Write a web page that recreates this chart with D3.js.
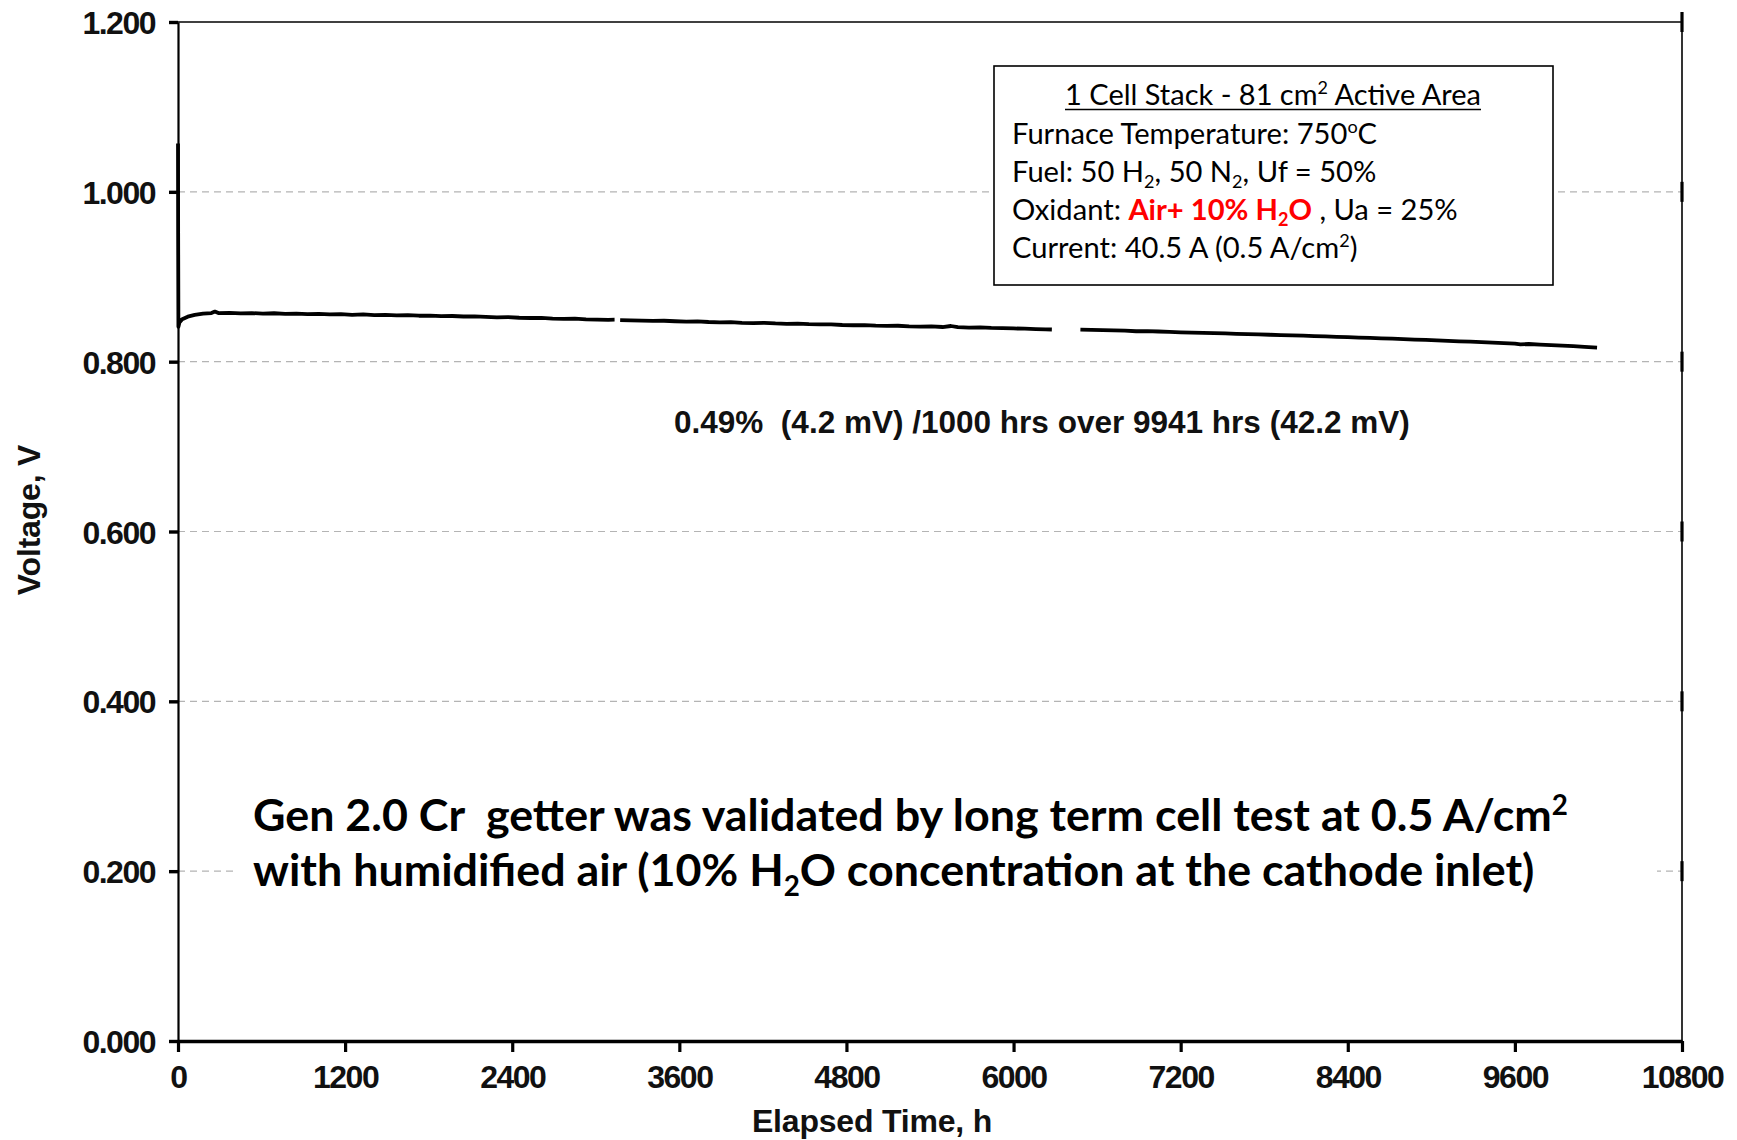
<!DOCTYPE html>
<html>
<head>
<meta charset="utf-8">
<script src="https://cdn.jsdelivr.net/npm/d3@7"></script>
<style>
  body { margin: 0; background: #fff; }
  svg { display: block; }
</style>
</head>
<body>
<svg id="chart" width="1737" height="1140"></svg>
<script>
// Cell voltage history, [elapsed hours, volts]; the trace has two logging gaps.
const segmentA = [
  [0,1.057],[1,0.952],[3,0.841],[10,0.846],[30,0.850],[70,0.853],[120,0.855],[180,0.8565],
  [240,0.8572],[265,0.8590],[290,0.8572],[370,0.8575],[450,0.8568],[530,0.8572],[610,0.8565],
  [690,0.8570],[770,0.8562],[850,0.8566],[930,0.8560],[1010,0.8563],[1090,0.8556],[1170,0.8559],
  [1250,0.8552],[1330,0.8556],[1410,0.8548],[1490,0.8551],[1570,0.8545],[1650,0.8548],[1730,0.8541],
  [1810,0.8543],[1890,0.8536],[1970,0.8538],[2050,0.8532],[2130,0.8534],[2210,0.8527],[2290,0.8522],
  [2370,0.8525],[2450,0.8517],[2530,0.8514],[2610,0.8516],[2690,0.8508],[2770,0.8505],[2850,0.8507],
  [2930,0.8499],[3010,0.8496],[3090,0.8493],[3135,0.8494]
];
const segmentB = [
  [3175,0.8490],[3250,0.8487],[3330,0.8484],[3410,0.8480],[3490,0.8482],[3570,0.8476],[3650,0.8472],
  [3730,0.8474],[3810,0.8467],[3890,0.8463],[3970,0.8465],[4050,0.8458],[4130,0.8455],[4210,0.8457],
  [4290,0.8450],[4370,0.8446],[4450,0.8448],[4530,0.8441],[4610,0.8438],[4690,0.8440],[4770,0.8432],
  [4850,0.8429],[4930,0.8431],[5010,0.8424],[5090,0.8421],[5170,0.8423],[5250,0.8416],[5330,0.8413],
  [5410,0.8415],[5490,0.8408],[5550,0.8420],[5600,0.8406],[5680,0.8402],[5760,0.8404],[5840,0.8397],
  [5920,0.8394],[6000,0.8391],[6080,0.8388],[6160,0.8384],[6230,0.8381],[6275,0.8379]
];
const segmentC = [
  [6480,0.8378],[6560,0.8374],[6640,0.8371],[6720,0.8368],[6800,0.8365],[6880,0.8358],[6960,0.8360],
  [7040,0.8355],[7120,0.8351],[7200,0.8346],[7280,0.8342],[7360,0.8339],[7440,0.8335],[7520,0.8332],
  [7600,0.8328],[7680,0.8325],[7760,0.8321],[7840,0.8317],[7920,0.8313],[8000,0.8309],[8080,0.8306],
  [8160,0.8301],[8240,0.8297],[8320,0.8293],[8400,0.8289],[8480,0.8284],[8560,0.8280],[8640,0.8275],
  [8720,0.8271],[8800,0.8266],[8880,0.8260],[8960,0.8256],[9040,0.8251],[9120,0.8245],[9200,0.8240],
  [9280,0.8235],[9360,0.8229],[9440,0.8224],[9520,0.8218],[9600,0.8213],[9640,0.8203],[9700,0.8208],
  [9780,0.8201],[9860,0.8195],[9940,0.8189],[10020,0.8182],[10100,0.8174],[10190,0.8166]
];
const segments = [segmentA, segmentB, segmentC];

const xTicks = [0, 1200, 2400, 3600, 4800, 6000, 7200, 8400, 9600, 10800];
const yTicks = [0, 0.2, 0.4, 0.6, 0.8, 1.0, 1.2];
const gridValues = [0.2, 0.4, 0.6, 0.8, 1.0];

const xTitle = "Elapsed Time, h";
const yTitle = "Voltage, V";
const rateNote = "0.49%\u00a0\u00a0(4.2 mV) /1000 hrs over 9941 hrs (42.2 mV)";

// Test-condition box, one entry per line; pieces carry their own styling.
const boxTitle = [{t: "1 Cell Stack - 81 cm"}, {t: "2", sup: true}, {t: " Active Area"}];
const boxLines = [
  [{t: "Furnace Temperature: 750"}, {t: "o", sup: true}, {t: "C"}],
  [{t: "Fuel: 50 H"}, {t: "2", sub: true}, {t: ", 50 N"}, {t: "2", sub: true}, {t: ", Uf = 50%"}],
  [{t: "Oxidant: "}, {t: "Air+ 10% H", red: true}, {t: "2", sub: true, red: true}, {t: "O", red: true}, {t: " , Ua = 25%"}],
  [{t: "Current: 40.5 A (0.5 A/cm"}, {t: "2", sup: true}, {t: ")"}]
];
const summaryLines = [
  [{t: "Gen 2.0 Cr\u00a0\u00a0getter was validated by long term cell test at 0.5 A/cm"}, {t: "2", sup: true}],
  [{t: "with humidified air (10% H"}, {t: "2", sub: true}, {t: "O concentration at the cathode inlet)"}]
];

const ARIAL = "'Liberation Sans', Arial, sans-serif";
const CALIBRI = "Lato, 'Open Sans', sans-serif";

const svg = d3.select("#chart");
const plotLeft = 178, plotRight = 1682, plotTop = 22, plotBottom = 1041;

const x = d3.scaleLinear().domain([0, 10800]).range([plotLeft, plotRight]);
const y = d3.scaleLinear().domain([0, 1.2]).range([plotBottom, plotTop]);

// dashed horizontal gridlines
svg.append("g").selectAll("line").data(gridValues).join("line")
  .attr("x1", plotLeft).attr("x2", plotRight)
  .attr("y1", d => y(d)).attr("y2", d => y(d))
  .attr("stroke", "#b4b4b4").attr("stroke-width", 1.2)
  .attr("stroke-dasharray", "7,5");

// frame: top and right edges
svg.append("line").attr("x1", plotLeft).attr("x2", plotRight).attr("y1", plotTop).attr("y2", plotTop)
  .attr("stroke", "#000").attr("stroke-width", 1.6);
svg.append("line").attr("x1", plotRight).attr("x2", plotRight).attr("y1", plotTop).attr("y2", plotBottom)
  .attr("stroke", "#000").attr("stroke-width", 1.6);
svg.append("g").selectAll("line").data(yTicks.slice(1)).join("line")
  .attr("x1", plotRight).attr("x2", plotRight)
  .attr("y1", d => y(d) - 10).attr("y2", d => y(d) + 10)
  .attr("stroke", "#000").attr("stroke-width", 3.2);

// voltage trace
const line = d3.line().x(d => x(d[0])).y(d => y(d[1]));
svg.append("g").selectAll("path").data(segments).join("path")
  .attr("d", line)
  .attr("fill", "none").attr("stroke", "#000")
  .attr("stroke-width", 3.8).attr("stroke-linejoin", "round");

// y axis
const yAxis = svg.append("g").attr("transform", `translate(${plotLeft},0)`)
  .call(d3.axisLeft(y).tickValues(yTicks).tickFormat(d3.format(".3f")).tickSize(9).tickSizeOuter(0).tickPadding(14));
yAxis.select(".domain").attr("stroke-width", 2.2);
yAxis.selectAll(".tick line").attr("stroke-width", 3.4);
yAxis.selectAll(".tick text")
  .attr("font-family", ARIAL).attr("font-weight", "bold").attr("font-size", 32)
  .attr("letter-spacing", -1.5).attr("fill", "#111").attr("dy", "0.36em");

// x axis
const xAxis = svg.append("g").attr("transform", `translate(0,${plotBottom})`)
  .call(d3.axisBottom(x).tickValues(xTicks).tickFormat(d3.format("d")).tickSize(11).tickSizeOuter(0));
xAxis.select(".domain").attr("stroke-width", 3.6);
xAxis.selectAll(".tick line").attr("stroke-width", 3.2);
xAxis.selectAll(".tick text")
  .attr("font-family", ARIAL).attr("font-weight", "bold").attr("font-size", 32)
  .attr("letter-spacing", -1.5).attr("fill", "#111").attr("y", 24).attr("dy", "0.71em");

// axis titles
svg.append("text").text(xTitle)
  .attr("x", 872).attr("y", 1132).attr("text-anchor", "middle")
  .attr("font-family", ARIAL).attr("font-weight", "bold").attr("font-size", 32)
  .attr("letter-spacing", -0.2).attr("fill", "#111");
svg.append("text").text(yTitle)
  .attr("transform", "translate(40,520) rotate(-90)").attr("text-anchor", "middle")
  .attr("font-family", ARIAL).attr("font-weight", "bold").attr("font-size", 32)
  .attr("letter-spacing", -0.2).attr("fill", "#111");

// degradation rate note
const note = svg.append("text").text(rateNote)
  .attr("x", 674).attr("y", 433)
  .attr("font-family", ARIAL).attr("font-weight", "bold").attr("font-size", 29)
  .attr("fill", "#111");
{
  const w = note.node().getComputedTextLength();
  note.attr("font-size", 29 * 736 / w);
}

// writes a line of styled pieces into a text element
function addPieces(textSel, pieces) {
  pieces.forEach(p => {
    const ts = textSel.append("tspan").text(p.t);
    if (p.sup) ts.attr("baseline-shift", "super").attr("font-size", "62%");
    if (p.sub) ts.attr("baseline-shift", "-0.35em").attr("font-size", "62%");
    if (p.red) ts.attr("fill", "#ff0000").attr("font-weight", "bold");
  });
  return textSel;
}

// test-condition box
svg.append("rect").attr("x", 994).attr("y", 66).attr("width", 559).attr("height", 219)
  .attr("fill", "#fff").attr("stroke", "#000").attr("stroke-width", 1.6);

const titleText = addPieces(
  svg.append("text").attr("x", 1273).attr("y", 105).attr("text-anchor", "middle")
    .attr("font-family", CALIBRI).attr("font-size", 28).attr("fill", "#000"),
  boxTitle);
{
  const w = titleText.node().getComputedTextLength();
  titleText.attr("font-size", 28 * 416 / w);
  svg.append("line").attr("x1", 1273 - 208).attr("x2", 1273 + 208)
    .attr("y1", 109.5).attr("y2", 109.5).attr("stroke", "#000").attr("stroke-width", 1.5);
}

const lineBaselines = [144, 182, 220, 258];
const lineTargets = [372, 359, 439, 351];
const bodyTexts = boxLines.map((pieces, i) => addPieces(
  svg.append("text").attr("x", 1012).attr("y", lineBaselines[i])
    .attr("font-family", CALIBRI).attr("font-size", 28).attr("fill", "#000"),
  pieces));
{
  const total = d3.sum(bodyTexts, t => t.node().getComputedTextLength());
  const fs = 28 * d3.sum(lineTargets) / total;
  bodyTexts.forEach(t => t.attr("font-size", fs));
}

// summary statement on a white band
svg.append("rect").attr("x", 233).attr("y", 790).attr("width", 1424).attr("height", 115)
  .attr("fill", "#fff");
const summaryBaselines = [831, 886];
const summaryTargets = [1315, 1282];
const summaryTexts = summaryLines.map((pieces, i) => addPieces(
  svg.append("text").attr("x", 253).attr("y", summaryBaselines[i])
    .attr("font-family", CALIBRI).attr("font-weight", "bold").attr("font-size", 44).attr("fill", "#000"),
  pieces));
{
  const total = d3.sum(summaryTexts, t => t.node().getComputedTextLength());
  const fs = 44 * d3.sum(summaryTargets) / total;
  summaryTexts.forEach(t => t.attr("font-size", fs));
}
</script>
</body>
</html>
